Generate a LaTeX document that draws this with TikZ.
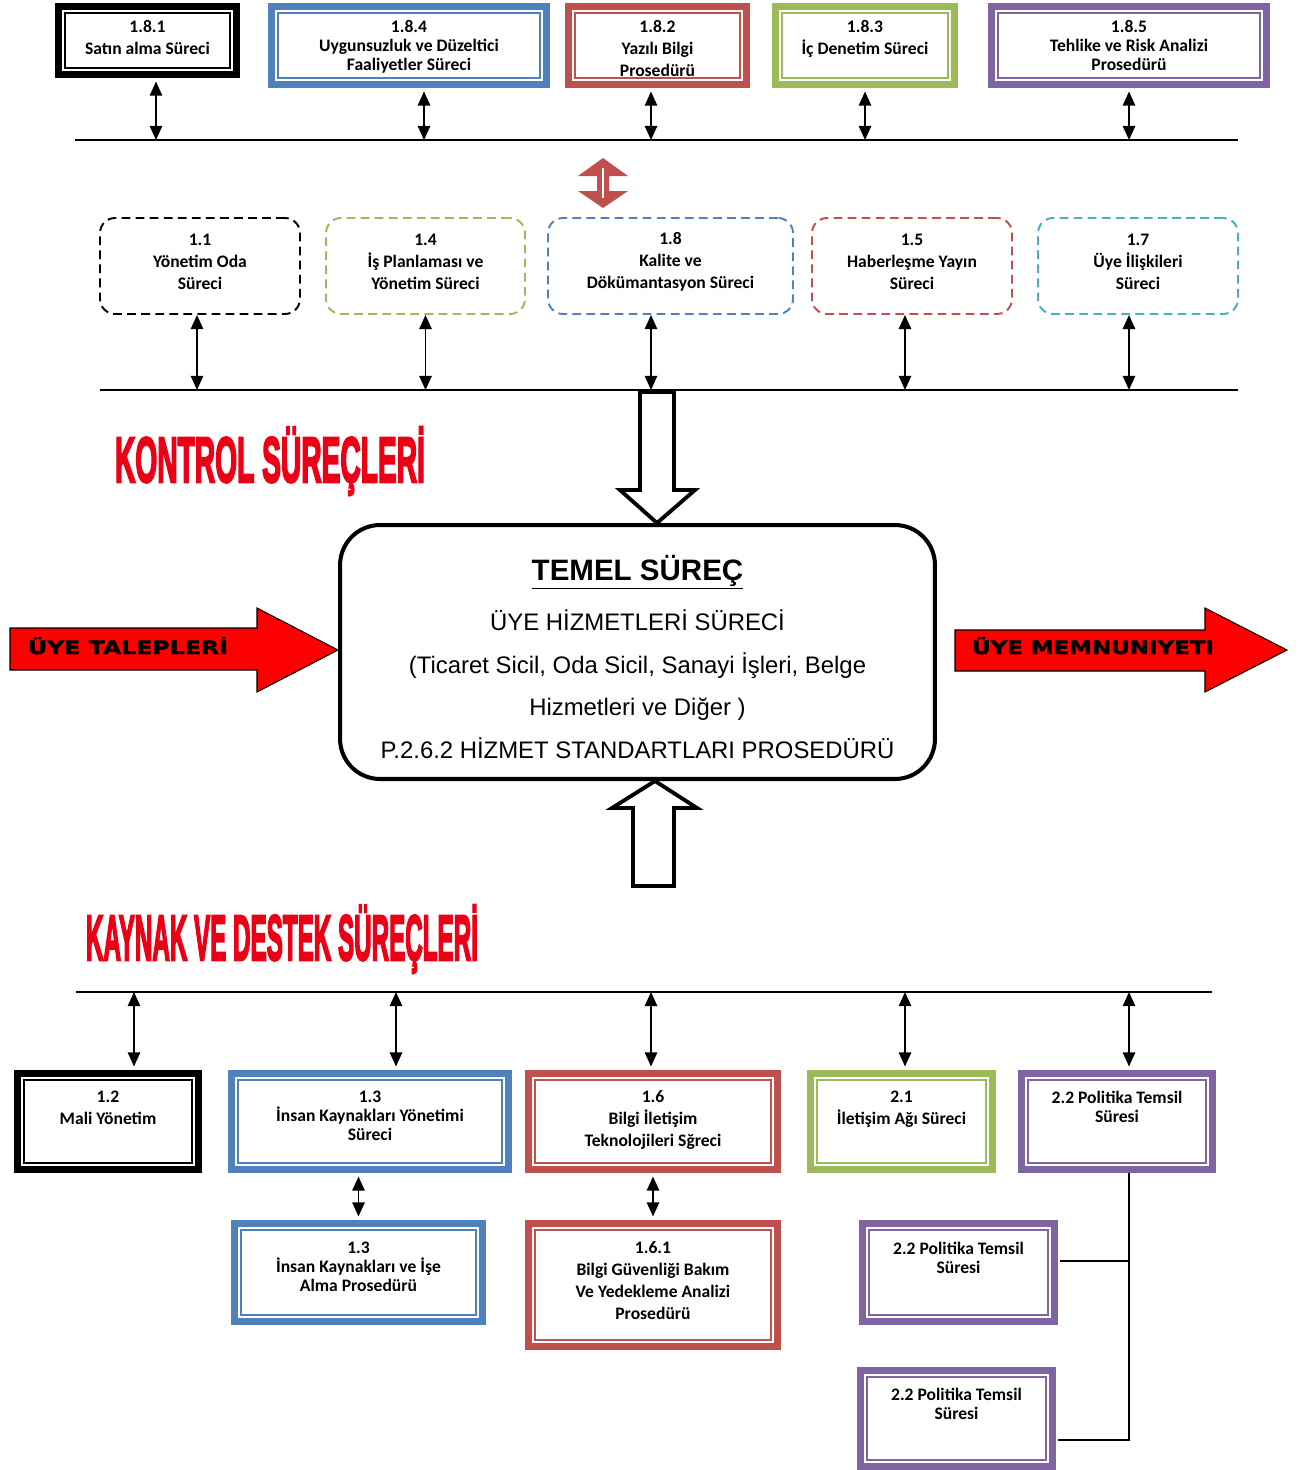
\documentclass[tikz,border=0pt]{standalone}
\usepackage{graphicx}
\usepackage{fontspec}
\setmainfont{Carlito}
\newfontfamily\mainsans{Liberation Sans}
\newfontfamily\titlefont{Liberation Sans}[BoldFeatures={FakeBold=4}]
\newfontfamily\bannerfont{DejaVu Sans}[BoldFeatures={FakeBold=2}]
\usetikzlibrary{positioning,arrows.meta}
\definecolor{qblue}{RGB}{79,129,189}
\definecolor{qred}{RGB}{192,80,77}
\definecolor{qgreen}{RGB}{155,187,89}
\definecolor{qpurple}{RGB}{128,100,162}
\definecolor{qcyan}{RGB}{75,172,198}
\definecolor{titlered}{RGB}{236,0,22}
\tikzset{
  pbox/.style={draw=#1, line width=4pt, fill=white, inner sep=0pt,
    path picture={\draw[#1, line width=0.8pt]
      ([shift={(3.6pt,3.6pt)}]path picture bounding box.south west) rectangle
      ([shift={(-3.6pt,-3.6pt)}]path picture bounding box.north east);}},
  cbox/.style={draw=#1, dash pattern=on 5pt off 3pt, line width=1.1pt,
    rounded corners=0.3cm, inner sep=0pt},
  lbl/.style={inner sep=0pt, align=center, font=\bfseries\fontsize{10}{12.5}\selectfont},
  lbltight/.style={lbl, font=\bfseries\fontsize{10}{10.8}\selectfont},
  link/.style={{Triangle[width=7pt,length=8pt]}-{Triangle[width=7pt,length=8pt]}, line width=1pt},
  bus/.style={line width=0.9pt},
  tree/.style={line width=0.8pt},
  title/.style={inner sep=0pt, text=titlered, font=\titlefont\bfseries},
  banner/.style={inner sep=0pt, font=\bannerfont\bfseries},
  hollow/.style={draw=black, fill=white, line width=2.2pt, line join=miter}
}

\begin{document}
\begin{tikzpicture}[x=0.02cm, y=-0.02cm]
    \useasboundingbox (0,0) rectangle (1309,1470);
    % control documents (top row)
    \node[pbox=black, minimum width=3.56cm, minimum height=1.36cm] (box_181) at (147.5,40.5) {};
    \node[pbox=qblue, minimum width=5.5cm, minimum height=1.56cm] (box_184) at (409,45.5) {};
    \node[pbox=qred, minimum width=3.56cm, minimum height=1.56cm] (box_182) at (657.5,45.5) {};
    \node[pbox=qgreen, minimum width=3.58cm, minimum height=1.56cm] (box_183) at (865,45.5) {};
    \node[pbox=qpurple, minimum width=5.5cm, minimum height=1.56cm] (box_185) at (1129,45.5) {};
    \node[lbl, below=0.35cm of box_181.north] (lbl_181) {1.8.1\\Satın alma Süreci};
    \node[lbltight, below=0.35cm of box_184.north] (lbl_184) {1.8.4\\Uygunsuzluk ve Düzeltici\\Faaliyetler Süreci};
    \begin{scope}
        % the third line runs past the inner frame
        \clip ([shift={(4.2pt,4.2pt)}]box_182.south west) rectangle ([shift={(-4.2pt,-4.2pt)}]box_182.north east);
        \node[lbl, below=0.35cm of box_182.north] (lbl_182) {1.8.2\\Yazılı Bilgi\\Prosedürü};
    \end{scope}
    \node[lbl, below=0.35cm of box_183.north] (lbl_183) {1.8.3\\İç Denetim Süreci};
    \node[lbltight, below=0.35cm of box_185.north] (lbl_185) {1.8.5\\Tehlike ve Risk Analizi\\Prosedürü};
    % buses
    \coordinate (bus_top_w) at (75,140);
    \coordinate (bus_top_e) at (1238,140);
    \coordinate (bus_mid_w) at (100,390);
    \coordinate (bus_mid_e) at (1238,390);
    \coordinate (bus_bot_w) at (76,992);
    \coordinate (bus_bot_e) at (1212,992);
    \draw[bus] (bus_top_w) -- (bus_top_e);
    \draw[bus] (bus_mid_w) -- (bus_mid_e);
    \draw[bus] (bus_bot_w) -- (bus_bot_e);
    \foreach \n/\dx in {box_181/0.17, box_184/0.3, box_182/-0.13, box_183/0, box_185/0} {
        \path ([xshift=\dx cm, yshift=-2pt]\n.south) coordinate (tip);
        \draw[link] (tip) -- (tip |- bus_top_w);
    }
    % red double arrow
    \fill[qred] (603,158) -- (628,176) -- (609,176) -- (609,191) -- (628,191) -- (603,208)
        -- (578,191) -- (597,191) -- (597,176) -- (578,176) -- cycle;
    \draw[white, line width=1.2pt] (603,168) -- (603,198);
    % control processes (dashed row)
    \node[cbox=black, minimum width=4cm, minimum height=1.92cm] (ctl_11) at (200,266) {};
    \node[cbox=qgreen, minimum width=3.98cm, minimum height=1.92cm] (ctl_14) at (425.5,266) {};
    \node[cbox=qblue, minimum width=4.9cm, minimum height=1.92cm] (ctl_18) at (670.5,266) {};
    \node[cbox=qred, minimum width=4cm, minimum height=1.92cm] (ctl_15) at (912,266) {};
    \node[cbox=qcyan, minimum width=4cm, minimum height=1.92cm] (ctl_17) at (1138,266) {};
    \node[lbl] (lbl_11) at ([yshift=0.08cm]ctl_11.center) {1.1\\Yönetim Oda\\Süreci};
    \node[lbl] (lbl_14) at ([yshift=0.08cm]ctl_14.center) {1.4\\İş Planlaması ve\\Yönetim Süreci};
    \node[lbl] (lbl_18) at ([yshift=0.08cm]ctl_18.center) {1.8\\Kalite ve\\Dökümantasyon Süreci};
    \node[lbl] (lbl_15) at ([yshift=0.08cm]ctl_15.center) {1.5\\Haberleşme Yayın\\Süreci};
    \node[lbl] (lbl_17) at ([yshift=0.08cm]ctl_17.center) {1.7\\Üye İlişkileri\\Süreci};
    \foreach \n/\dx in {ctl_11/-0.06, ctl_14/0, ctl_18/-0.39, ctl_15/-0.14, ctl_17/-0.18} {
        \path ([xshift=\dx cm]\n.south) coordinate (tip);
        \draw[link] (tip) -- (tip |- bus_mid_w);
    }
    % titles
    \node[title, anchor=base] (ttl_kontrol) at (270,482) {\resizebox{6.2cm}{1.1cm}{KONTROL SÜREÇLERİ}};
    \node[title, anchor=base] (ttl_kaynak) at (282,960) {\resizebox{7.84cm}{1.1cm}{KAYNAK VE DESTEK SÜREÇLERİ}};
    % main process
    \node[draw, line width=2.3pt, rounded corners=0.8cm, minimum width=11.9cm, minimum height=5.08cm] (main) at (637.5,652) {};
    \node[inner sep=0pt, align=center, font=\mainsans\fontsize{13.6}{24.4}\selectfont] (main_txt) at (637.5,657)
        {{\bfseries\fontsize{16.8}{20}\selectfont\underline{TEMEL SÜREÇ}}\\[4pt]
         ÜYE HİZMETLERİ SÜRECİ\\
         (Ticaret Sicil, Oda Sicil, Sanayi İşleri, Belge\\
         Hizmetleri ve Diğer )\\
         P.2.6.2 HİZMET STANDARTLARI PROSEDÜRÜ};
    \draw[hollow] (640,392) -- (674,392) -- (674,490) -- (695,490) -- (657,523)
        -- (620,490) -- (640,490) -- cycle;
    \draw[hollow] (633,886) -- (674,886) -- (674,808) -- (697,808) -- (655,781)
        -- (612,808) -- (633,808) -- cycle;
    % input and output
    \fill[red, draw=black, line width=0.6pt] (10,628) -- (257,628) -- (257,608) -- (338,650)
        -- (257,692) -- (257,670) -- (10,670) -- cycle;
    \fill[red, draw=black, line width=0.6pt] (955,630) -- (1205,630) -- (1205,608) -- (1287,650)
        -- (1205,692) -- (1205,671) -- (955,671) -- cycle;
    \node[banner, anchor=base] (ban_req) at (128,654) {\resizebox{4cm}{0.34cm}{ÜYE TALEPLERİ}};
    \node[banner, anchor=base] (ban_sat) at (1093,654) {\resizebox{4.84cm}{0.34cm}{ÜYE MEMNUNIYETI}};
    % support processes (bottom row)
    \node[pbox=black, minimum width=3.62cm, minimum height=1.92cm] (box_12) at (108,1121.5) {};
    \node[pbox=qblue, minimum width=5.54cm, minimum height=1.92cm] (box_13) at (370,1121.5) {};
    \node[pbox=qred, minimum width=4.98cm, minimum height=1.92cm] (box_16) at (653,1121.5) {};
    \node[pbox=qgreen, minimum width=3.64cm, minimum height=1.92cm] (box_21) at (901.5,1121.5) {};
    \node[pbox=qpurple, minimum width=3.82cm, minimum height=1.92cm] (box_22) at (1117,1121.5) {};
    \node[pbox=qblue, minimum width=4.96cm, minimum height=1.96cm] (box_13b) at (358.5,1272.5) {};
    \node[pbox=qred, minimum width=4.98cm, minimum height=2.46cm] (box_161) at (653,1285) {};
    \node[pbox=qpurple, minimum width=3.84cm, minimum height=1.96cm] (box_22b) at (958.5,1272.5) {};
    \node[pbox=qpurple, minimum width=3.84cm, minimum height=1.92cm] (box_22c) at (956.5,1418.5) {};
    \node[lbl, below=0.41cm of box_12.north] (lbl_12) {1.2\\Mali Yönetim};
    \node[lbltight, below=0.41cm of box_13.north] (lbl_13) {1.3\\İnsan Kaynakları Yönetimi\\Süreci};
    \node[lbl, below=0.41cm of box_16.north] (lbl_16) {1.6\\Bilgi İletişim\\Teknolojileri Sğreci};
    \node[lbl, below=0.41cm of box_21.north] (lbl_21) {2.1\\İletişim Ağı Süreci};
    \node[lbltight, below=0.41cm of box_22.north] (lbl_22) {2.2 Politika Temsil\\Süresi};
    \node[lbltight, below=0.43cm of box_13b.north] (lbl_13b) {1.3\\İnsan Kaynakları ve İşe\\Alma Prosedürü};
    \node[lbl, below=0.43cm of box_161.north] (lbl_161) {1.6.1\\Bilgi Güvenliği Bakım\\Ve Yedekleme Analizi\\Prosedürü};
    \node[lbltight, below=0.43cm of box_22b.north] (lbl_22b) {2.2 Politika Temsil\\Süresi};
    \node[lbltight, below=0.41cm of box_22c.north] (lbl_22c) {2.2 Politika Temsil\\Süresi};
    \foreach \n/\dx in {box_12/0.52, box_13/0.52, box_16/-0.04, box_21/0.07, box_22/0.24} {
        \path ([xshift=\dx cm, yshift=2pt]\n.north) coordinate (tip);
        \draw[link] (tip |- bus_bot_w) -- (tip);
    }
    \path (box_13.south -| box_13b.north) coordinate (c13);
    \draw[link] ([yshift=-2pt]c13) -- ([yshift=2pt]box_13b.north);
    \path (box_16.south -| box_161.north) coordinate (c16);
    \draw[link] ([yshift=-2pt]c16) -- ([yshift=2pt]box_161.north);
    % policy tree
    \path ([xshift=0.24cm]box_22.south) coordinate (trunk);
    \path ([xshift=1pt, yshift=0.23cm]box_22b.east) coordinate (j22);
    \draw[tree] (trunk) |- ([xshift=1pt, yshift=-0.43cm]box_22c.east);
    \draw[tree] (j22) -- (j22 -| trunk);
\end{tikzpicture}
\end{document}
